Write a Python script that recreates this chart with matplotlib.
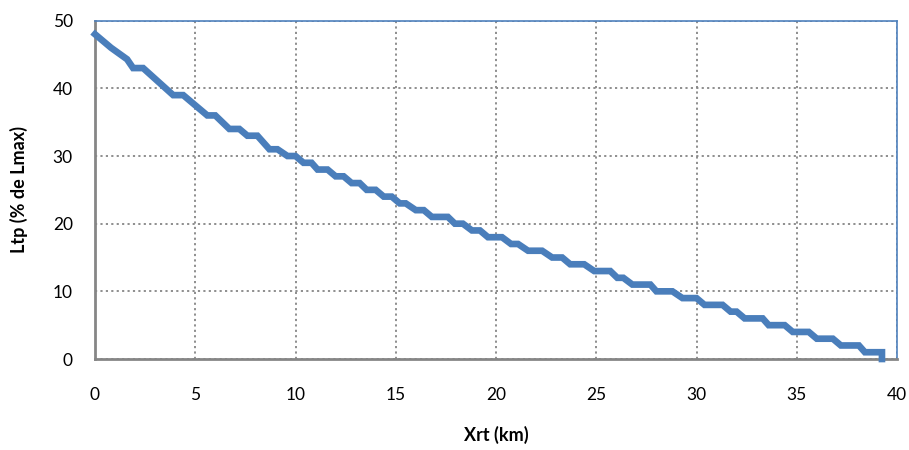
import numpy as np
import matplotlib
matplotlib.use('Agg')
import matplotlib.pyplot as plt

# staircase vertices (Xrt in km, Ltp in % of Lmax)
xrt = [0.0, 0.8, 1.6, 1.9, 2.4, 3.9, 4.4, 5.6, 6.0, 6.7, 7.2, 7.6, 8.1, 8.7, 9.1,
       9.6, 10.0, 10.4, 10.8, 11.1, 11.6, 12.0, 12.4, 12.8, 13.2, 13.55, 14.0,
       14.4, 14.8, 15.2, 15.5, 16.0, 16.4, 16.8, 17.6, 17.95, 18.35, 18.8, 19.2,
       19.6, 20.3, 20.75, 21.1, 21.6, 22.3, 22.8, 23.3, 23.7, 24.4, 24.9, 25.7,
       26.05, 26.35, 26.8, 27.7, 28.0, 28.8, 29.3, 30.0, 30.4, 31.3, 31.7, 32.0,
       32.4, 33.3, 33.6, 34.4, 34.8, 35.6, 36.0, 36.8, 37.2, 38.1, 38.4, 39.25, 39.25]
ltp = [48, 46, 44.3, 43, 43, 39, 39, 36, 36, 34, 34, 33, 33, 31, 31,
       30, 30, 29, 29, 28, 28, 27, 27, 26, 26, 25, 25,
       24, 24, 23, 23, 22, 22, 21, 21, 20, 20, 19, 19,
       18, 18, 17, 17, 16, 16, 15, 15, 14, 14, 13, 13,
       12, 12, 11, 11, 10, 10, 9, 9, 8, 8, 7, 7,
       6, 6, 5, 5, 4, 4, 3, 3, 2, 2, 1, 1, 0]

xticks = [0, 5, 10, 15, 20, 25, 30, 35, 40]
yticks = [0, 10, 20, 30, 40, 50]

plt.rcParams['font.family'] = ['Lato', 'DejaVu Sans']

fig = plt.figure(figsize=(9.09, 4.5), dpi=100)
ax = fig.add_axes([95/909, 1-359/450, (897-95)/909, (359-20.7)/450])

ax.plot(xrt, ltp, color='#4A7EBB', lw=4.8, solid_joinstyle='miter',
        solid_capstyle='projecting', clip_on=False, zorder=3)

ax.set_xlim(0, 40)
ax.set_ylim(0, 50)
ax.set_xticks(xticks)
ax.set_yticks(yticks)
ax.grid(True, color='#868686', linestyle=(0, (1.2, 1.8)), lw=1.3)
ax.tick_params(length=0, labelsize=12.5, colors='black')
ax.tick_params(axis='x', pad=20)
ax.tick_params(axis='y', pad=16)

for s in ['left', 'bottom']:
    ax.spines[s].set_color('#868686')
    ax.spines[s].set_linewidth(2)
for s in ['top', 'right']:
    ax.spines[s].set_color('#4F81BD')
    ax.spines[s].set_linewidth(1.2)

ax.set_xlabel('Xrt (km)', fontsize=13, fontweight='bold', labelpad=17)
ax.set_ylabel('Ltp (% de Lmax)', fontsize=13, fontweight='bold', labelpad=18)

fig.savefig('out.png', dpi=100)
